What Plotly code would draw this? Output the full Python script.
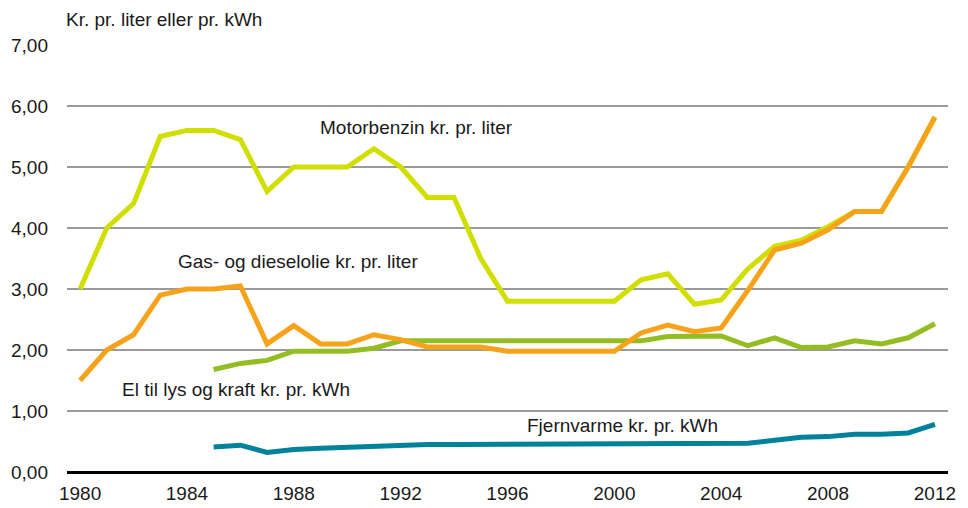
import plotly.graph_objects as go

years = list(range(1980, 2013))
years_el = list(range(1985, 2013))

motorbenzin = [3.00, 4.00, 4.40, 5.50, 5.60, 5.60, 5.45, 4.60, 5.00, 5.00, 5.00, 5.30, 5.00,
               4.50, 4.50, 3.50, 2.80, 2.80, 2.80, 2.80, 2.80, 3.15, 3.25, 2.75, 2.82, 3.33,
               3.70, 3.80, 4.02, 4.27, 4.27, 5.00, 5.82]
gasdiesel = [1.50, 2.00, 2.25, 2.90, 3.00, 3.00, 3.05, 2.10, 2.40, 2.10, 2.10, 2.25, 2.17,
             2.05, 2.05, 2.05, 1.98, 1.98, 1.98, 1.98, 1.98, 2.28, 2.41, 2.30, 2.36, 2.98,
             3.64, 3.75, 3.97, 4.27, 4.27, 5.00, 5.82]
el = [1.68, 1.78, 1.83, 1.98, 1.98, 1.98, 2.03, 2.15, 2.15, 2.15, 2.15, 2.15, 2.15, 2.15,
      2.15, 2.15, 2.15, 2.22, 2.22, 2.23, 2.07, 2.20, 2.04, 2.05, 2.15, 2.10, 2.20, 2.43]
fjernvarme = [0.41, 0.44, 0.32, 0.37, 0.39, 0.41, 0.43, 0.45, 0.45, 0.45, 0.45, 0.45, 0.45,
              0.45, 0.45, 0.45, 0.45, 0.46, 0.46, 0.47, 0.47, 0.52, 0.57, 0.58, 0.62, 0.62,
              0.64, 0.78]

xticks = list(range(1980, 2013, 4))
yticks = [0, 1, 2, 3, 4, 5, 6, 7]
yticklabels = ["0,00", "1,00", "2,00", "3,00", "4,00", "5,00", "6,00", "7,00"]

FONT = "Liberation Sans Narrow, Arial Narrow, sans-serif"
FS = 19

fig = go.Figure()
fig.add_trace(go.Scatter(x=years_el, y=fjernvarme, mode="lines",
                         line=dict(color="#00829A", width=5), name="Fjernvarme"))
fig.add_trace(go.Scatter(x=years, y=motorbenzin, mode="lines",
                         line=dict(color="#D0DF00", width=5), name="Motorbenzin"))
fig.add_trace(go.Scatter(x=years_el, y=el, mode="lines",
                         line=dict(color="#93BD22", width=5), name="El"))
fig.add_trace(go.Scatter(x=years, y=gasdiesel, mode="lines",
                         line=dict(color="#F7A21B", width=5), name="Gas"))

labels = [
    ("Motorbenzin kr. pr. liter", 1988.9, 5.65),
    ("Gas- og dieselolie kr. pr. liter", 1983.6, 3.45),
    ("El til lys og kraft kr. pr. kWh", 1981.5, 1.35),
    ("Fjernvarme kr. pr. kWh", 1996.65, 0.77),
]
for text, x, y in labels:
    fig.add_annotation(x=x, y=y, text=text, showarrow=False, xanchor="left",
                       yanchor="middle", font=dict(family=FONT, size=FS, color="#1a1a1a"))

fig.add_annotation(x=0, y=1 + 25 / 427, xref="paper", yref="paper",
                   text="Kr. pr. liter eller pr. kWh", showarrow=False,
                   xanchor="left", yanchor="middle", xshift=-3,
                   font=dict(family=FONT, size=FS, color="#1a1a1a"))

# page body has an 8px margin, so the figure is sized/offset to compensate
fig.update_layout(
    width=960, height=500,
    margin=dict(l=59, r=20, t=37, b=36),
    paper_bgcolor="white", plot_bgcolor="white",
    showlegend=False,
    font=dict(family=FONT, size=FS, color="#1a1a1a"),
    xaxis=dict(range=[1979.51, 2012.49], tickvals=xticks, showgrid=False,
               zeroline=False, showline=False, ticks="", ticklabelstandoff=8,
               automargin=False, fixedrange=True),
    yaxis=dict(range=[0, 7], tickvals=yticks, ticktext=yticklabels,
               showgrid=True, gridcolor="#9a9a9a", gridwidth=1.5,
               zeroline=True, zerolinecolor="#000000", zerolinewidth=2.5,
               showline=False, ticks="", ticklabelstandoff=18,
               automargin=False, fixedrange=True),
)

fig.write_html("out.html")
